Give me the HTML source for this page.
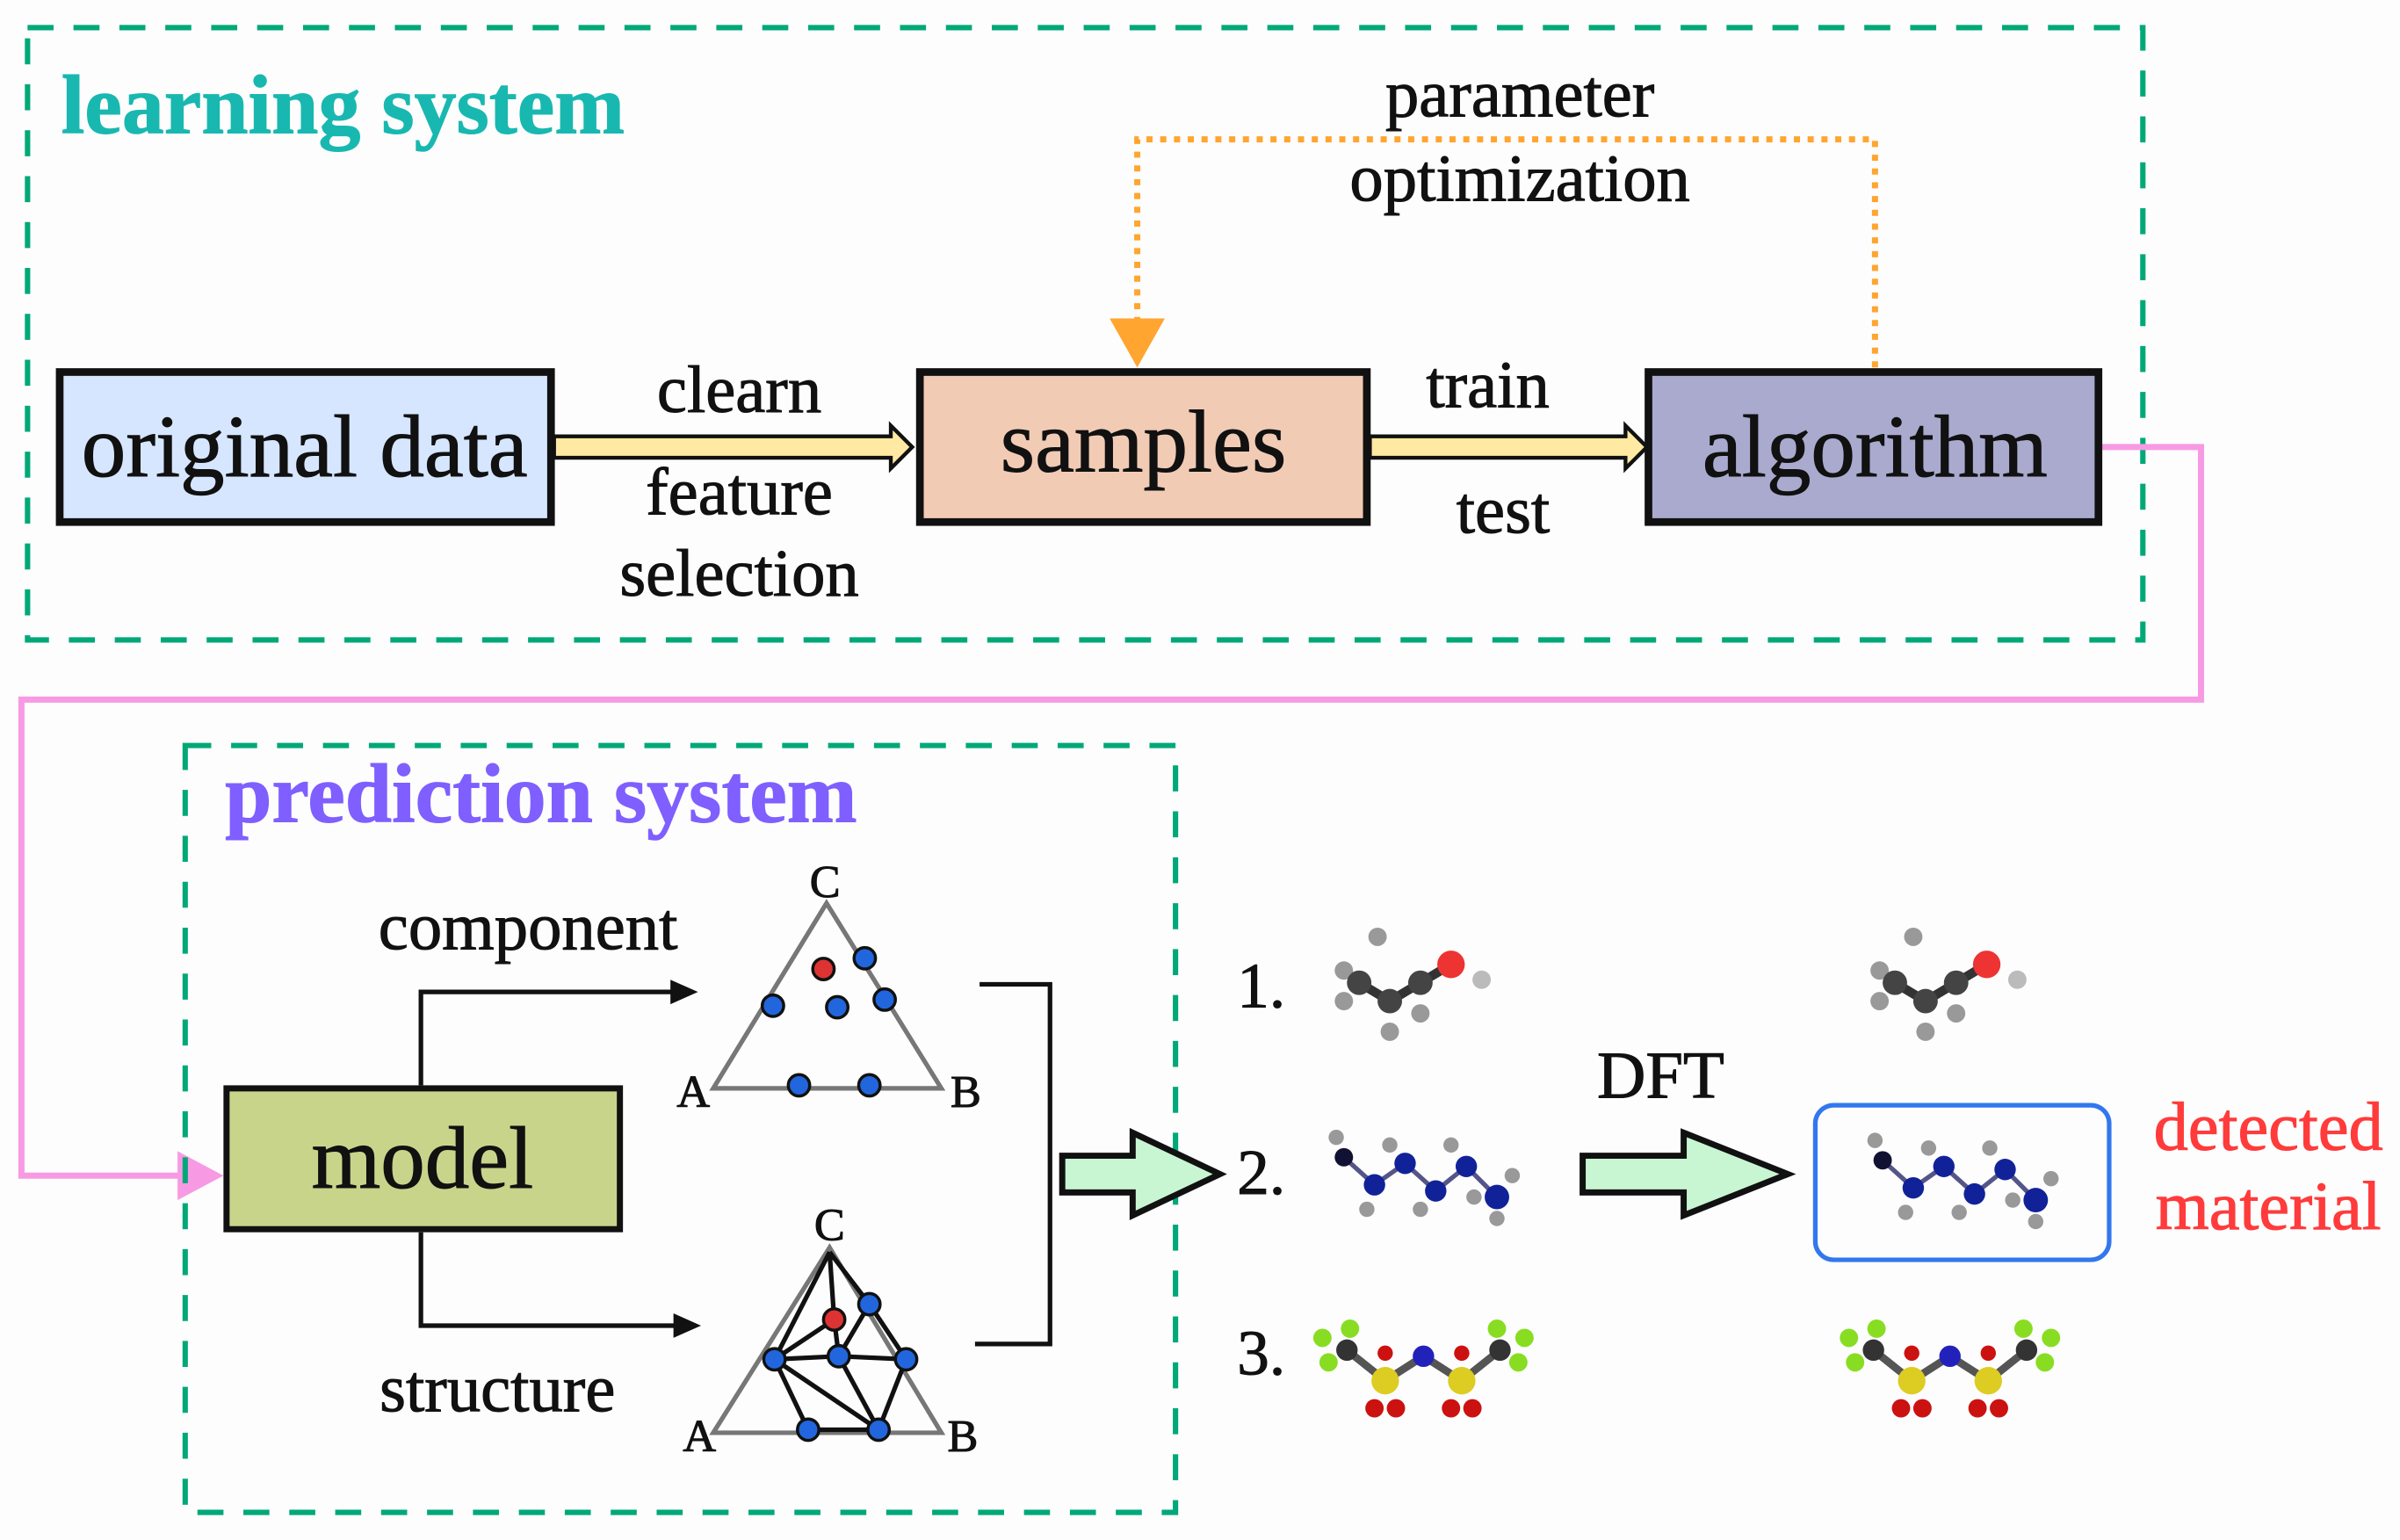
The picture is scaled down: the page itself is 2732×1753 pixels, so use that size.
<!DOCTYPE html>
<html><head><meta charset="utf-8"><style>
html,body{margin:0;padding:0;background:#fdfdfd;}
svg{display:block;}
text{font-family:"Liberation Serif",serif;fill:#111;stroke:#111;stroke-width:0.6;}
</style></head><body>
<svg width="2732" height="1753" viewBox="0 0 1568 1006" xmlns="http://www.w3.org/2000/svg">
<defs>
<g id="m1">
<line x1="-30" y1="0" x2="-10" y2="12" stroke="#333" stroke-width="6"/>
<line x1="-10" y1="12" x2="10" y2="0" stroke="#333" stroke-width="6"/>
<line x1="10" y1="0" x2="30" y2="-12" stroke="#333" stroke-width="6"/>
<circle cx="-40" cy="-8" r="6" fill="#999"/><circle cx="-40" cy="12" r="6" fill="#999"/>
<circle cx="-18" cy="-30" r="6" fill="#999"/><circle cx="-10" cy="32" r="6" fill="#999"/>
<circle cx="10" cy="20" r="6" fill="#999"/>
<circle cx="-30" cy="0" r="8" fill="#444"/><circle cx="-10" cy="12" r="8" fill="#444"/>
<circle cx="10" cy="0" r="8" fill="#444"/><circle cx="30" cy="-12" r="9" fill="#e33"/>
<circle cx="50" cy="-2" r="6" fill="#bbb"/>
</g>
<g id="m2">
<polyline points="-50,-12 -30,6 -10,-8 10,10 30,-6 50,14" fill="none" stroke="#558" stroke-width="3"/>
<circle cx="-55" cy="-25" r="5" fill="#999"/><circle cx="-20" cy="-20" r="5" fill="#999"/>
<circle cx="-35" cy="22" r="5" fill="#999"/><circle cx="0" cy="22" r="5" fill="#999"/>
<circle cx="20" cy="-20" r="5" fill="#999"/><circle cx="35" cy="14" r="5" fill="#999"/>
<circle cx="60" cy="0" r="5" fill="#999"/><circle cx="50" cy="28" r="5" fill="#999"/>
<circle cx="-50" cy="-12" r="6" fill="#113"/><circle cx="-30" cy="6" r="7" fill="#129"/>
<circle cx="-10" cy="-8" r="7" fill="#129"/><circle cx="10" cy="10" r="7" fill="#129"/>
<circle cx="30" cy="-6" r="7" fill="#129"/><circle cx="50" cy="14" r="8" fill="#129"/>
</g>
<g id="m3">
<polyline points="-50,-10 -25,10 0,-6 25,10 50,-10" fill="none" stroke="#555" stroke-width="5"/>
<circle cx="-62" cy="-2" r="6" fill="#8d2"/><circle cx="-48" cy="-24" r="6" fill="#8d2"/><circle cx="-66" cy="-18" r="6" fill="#8d2"/>
<circle cx="62" cy="-2" r="6" fill="#8d2"/><circle cx="48" cy="-24" r="6" fill="#8d2"/><circle cx="66" cy="-18" r="6" fill="#8d2"/>
<circle cx="-50" cy="-10" r="7" fill="#333"/><circle cx="50" cy="-10" r="7" fill="#333"/>
<circle cx="-25" cy="10" r="9" fill="#dc2"/><circle cx="25" cy="10" r="9" fill="#dc2"/>
<circle cx="0" cy="-6" r="7" fill="#22b"/>
<circle cx="-32" cy="28" r="6" fill="#c11"/><circle cx="-18" cy="28" r="6" fill="#c11"/>
<circle cx="18" cy="28" r="6" fill="#c11"/><circle cx="32" cy="28" r="6" fill="#c11"/>
<circle cx="-25" cy="-8" r="5" fill="#c11"/><circle cx="25" cy="-8" r="5" fill="#c11"/>
</g>
</defs>

<rect x="18" y="18" width="1382" height="400" fill="none" stroke="#00a878" stroke-width="3.5" stroke-dasharray="17 13"/>
<text x="40" y="87" font-size="55" font-weight="bold" style="fill:#18b8b0;stroke:#18b8b0">learning system</text>

<polyline points="1225,240 1225,91 743,91 743,212" fill="none" stroke="#ffa530" stroke-width="4" stroke-dasharray="4 5"/>
<polygon points="725,208 761,208 743,240" fill="#ffa530"/>
<text x="993" y="76" font-size="44" text-anchor="middle">parameter</text>
<text x="993" y="131" font-size="44" text-anchor="middle">optimization</text>

<polyline points="1371,292 1438,292 1438,457 14,457 14,768 118,768" fill="none" stroke="#f79ae3" stroke-width="4"/>
<polygon points="116,752 116,784 146,768" fill="#f79ae3"/>

<rect x="39" y="243" width="321" height="98" fill="#d6e6ff" stroke="#111" stroke-width="5"/>
<text x="199" y="311" font-size="58" text-anchor="middle">original data</text>
<rect x="601" y="243" width="292" height="98" fill="#f2cbb5" stroke="#111" stroke-width="5"/>
<text x="747" y="308" font-size="58" text-anchor="middle">samples</text>
<rect x="1077" y="243" width="294" height="98" fill="#a9aace" stroke="#111" stroke-width="5"/>
<text x="1225" y="311" font-size="58" text-anchor="middle">algorithm</text>

<polygon points="362,285 582,285 582,278 596,292 582,306 582,299 362,299" fill="#ffe9a3" stroke="#111" stroke-width="2.5"/>
<polygon points="895,285 1062,285 1062,278 1076,292 1062,306 1062,299 895,299" fill="#ffe9a3" stroke="#111" stroke-width="2.5"/>
<text x="483" y="269" font-size="44" text-anchor="middle">clearn</text>
<text x="483" y="336" font-size="44" text-anchor="middle">feature</text>
<text x="483" y="389" font-size="44" text-anchor="middle">selection</text>
<text x="972" y="266" font-size="44" text-anchor="middle">train</text>
<text x="982" y="348" font-size="44" text-anchor="middle">test</text>

<rect x="121" y="487" width="647" height="501" fill="none" stroke="#00a878" stroke-width="3.5" stroke-dasharray="17 13"/>
<text x="147" y="537" font-size="55" font-weight="bold" style="fill:#7f5fff;stroke:#7f5fff">prediction system</text>

<rect x="148" y="711" width="257" height="92" fill="#c9d48b" stroke="#111" stroke-width="4"/>
<text x="276" y="776" font-size="58" text-anchor="middle">model</text>

<polyline points="275,709 275,648 440,648" fill="none" stroke="#111" stroke-width="3"/>
<polygon points="438,640 456,648 438,656" fill="#111"/>
<polyline points="275,805 275,866 442,866" fill="none" stroke="#111" stroke-width="3"/>
<polygon points="440,858 458,866 440,874" fill="#111"/>
<text x="345" y="620" font-size="44" text-anchor="middle">component</text>
<text x="325" y="922" font-size="44" text-anchor="middle">structure</text>

<polygon points="540,590 466,711 615,711" fill="none" stroke="#777" stroke-width="3"/>
<text x="539" y="586" font-size="30" text-anchor="middle">C</text>
<text x="453" y="723" font-size="30" text-anchor="middle">A</text>
<text x="631" y="723" font-size="30" text-anchor="middle">B</text>
<g stroke="#111" stroke-width="2">
<circle cx="538" cy="633" r="7" fill="#d33"/><circle cx="565" cy="626" r="7" fill="#2266dd"/>
<circle cx="505" cy="657" r="7" fill="#2266dd"/><circle cx="547" cy="658" r="7" fill="#2266dd"/>
<circle cx="578" cy="653" r="7" fill="#2266dd"/><circle cx="522" cy="709" r="7" fill="#2266dd"/>
<circle cx="568" cy="709" r="7" fill="#2266dd"/>
</g>
<polygon points="542,815 466,936 615,936" fill="none" stroke="#777" stroke-width="3"/>
<g stroke="#111" stroke-width="3" fill="none">
<polyline points="542,818 506,888 528,934 574,934 592,888 568,852 542,818"/>
<line x1="506" y1="888" x2="545" y2="862"/><line x1="506" y1="888" x2="548" y2="886"/>
<line x1="548" y1="886" x2="574" y2="934"/><line x1="548" y1="886" x2="592" y2="888"/>
<line x1="545" y1="862" x2="548" y2="886"/><line x1="506" y1="888" x2="574" y2="934"/>
<line x1="542" y1="818" x2="545" y2="862"/><line x1="568" y1="852" x2="548" y2="886"/>
</g>
<text x="542" y="810" font-size="30" text-anchor="middle">C</text>
<text x="457" y="948" font-size="30" text-anchor="middle">A</text>
<text x="629" y="948" font-size="30" text-anchor="middle">B</text>
<g stroke="#111" stroke-width="2">
<circle cx="545" cy="862" r="7" fill="#d33"/><circle cx="568" cy="852" r="7" fill="#2266dd"/>
<circle cx="506" cy="888" r="7" fill="#2266dd"/><circle cx="548" cy="886" r="7" fill="#2266dd"/>
<circle cx="592" cy="888" r="7" fill="#2266dd"/><circle cx="528" cy="934" r="7" fill="#2266dd"/>
<circle cx="574" cy="934" r="7" fill="#2266dd"/>
</g>

<polyline points="640,643 686,643 686,878 637,878" fill="none" stroke="#111" stroke-width="3"/>

<polygon points="694,755 740,755 740,740 797,767 740,794 740,779 694,779" fill="#c8f6d2" stroke="#111" stroke-width="4"/>
<polygon points="1034,755 1100,755 1100,740 1168,767 1100,794 1100,779 1034,779" fill="#c8f6d2" stroke="#111" stroke-width="4"/>
<text x="1085" y="717" font-size="44" text-anchor="middle">DFT</text>

<text x="824" y="658" font-size="42" text-anchor="middle">1.</text>
<text x="824" y="780" font-size="42" text-anchor="middle">2.</text>
<text x="824" y="898" font-size="42" text-anchor="middle">3.</text>

<use href="#m1" x="918" y="642"/>
<use href="#m2" x="928" y="768"/>
<use href="#m3" x="930" y="892"/>
<use href="#m1" x="1268" y="642"/>
<use href="#m2" x="1280" y="770"/>
<use href="#m3" x="1274" y="892"/>

<rect x="1186" y="722" width="192" height="101" rx="12" fill="none" stroke="#3377ee" stroke-width="3"/>
<text x="1482" y="751" font-size="45" text-anchor="middle" style="fill:#ff3b3b;stroke:#ff3b3b">detected</text>
<text x="1482" y="803" font-size="45" text-anchor="middle" style="fill:#ff3b3b;stroke:#ff3b3b">material</text>
</svg>
</body></html>
